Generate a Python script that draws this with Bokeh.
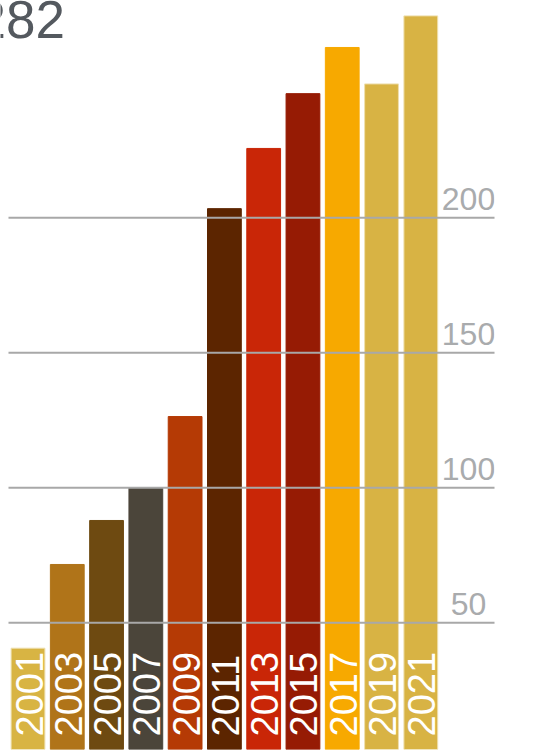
from math import pi

from bokeh.core.properties import value
from bokeh.embed import file_html
from bokeh.models import ColumnDataSource, Label, Range1d
from bokeh.plotting import figure
from bokeh.resources import INLINE

# ---- data ----
years = ["2001", "2003", "2005", "2007", "2009", "2011",
         "2013", "2015", "2017", "2019", "2021"]
values = [40.6, 71.6, 87.9, 100.0, 126.4, 203.4,
          225.7, 246.0, 263.1, 249.6, 274.8]
bar_colors = ["#D8B443", "#B07419", "#6E4A11", "#4B453A", "#B53A05", "#5C2500",
              "#C92607", "#961B04", "#F7A900", "#D8B344", "#D8B344"]
edge_colors = ["#EEDFAE", "#B07419", "#6E4A11", "#4B453A", "#B53A05", "#5C2500",
               "#C92607", "#961B04", "#F7A900", "#EEDFAE", "#EEDFAE"]
grid_ticks = [50, 100, 150, 200]
grid_labels = ["50", "100", "150", "200"]
headline = "282"

# ---- layout constants ----
FONT = "Liberation Sans"
X_START, X_END = -0.7001, 11.876
GRID_X0 = -0.4964
Y_START, Y_END = 3.07, 280.5
LABEL_BASE = 7.9
TICK_X = 11.214

idx = list(range(len(years)))
src = ColumnDataSource(dict(x=idx, top=values, year=years, fill=bar_colors,
                            edge=edge_colors, ly=[LABEL_BASE] * len(years)))

p = figure(width=536, height=755, output_backend="svg", toolbar_location=None,
           x_axis_location=None, y_axis_location=None,
           x_range=Range1d(X_START, X_END), y_range=Range1d(Y_START, Y_END),
           min_border=0, min_border_left=0, min_border_right=42,
           min_border_top=0, min_border_bottom=6)
p.outline_line_color = None
p.background_fill_color = "white"
p.border_fill_color = "white"
p.xgrid.grid_line_color = None
p.ygrid.grid_line_color = None

p.vbar(x="x", top="top", bottom=0, width=0.86, source=src,
       fill_color="fill", line_color="edge", line_width=1)

p.segment(x0=[GRID_X0] * len(grid_ticks), x1=[X_END] * len(grid_ticks),
          y0=grid_ticks, y1=grid_ticks, line_color="#A8A8A8", line_width=2,
          level="overlay")

p.text(x="x", y="ly", text="year", source=src, angle=pi / 2,
       text_align="left", text_baseline="middle", x_offset=1,
       text_color="white", text_font=value(FONT), text_font_size="38px")

p.text(x=[TICK_X] * len(grid_ticks), y=grid_ticks, text=grid_labels,
       y_offset=-19, text_align="center", text_baseline="alphabetic",
       text_color="#A9ABAD", text_font=value(FONT), text_font_size="32px")

p.add_layout(Label(x=0.942, y=273.3, text=headline, text_align="right",
                   text_baseline="alphabetic", text_font=FONT,
                   text_font_size="53px", text_color="#54595F"))

open("out.html", "w").write(file_html(p, INLINE))
